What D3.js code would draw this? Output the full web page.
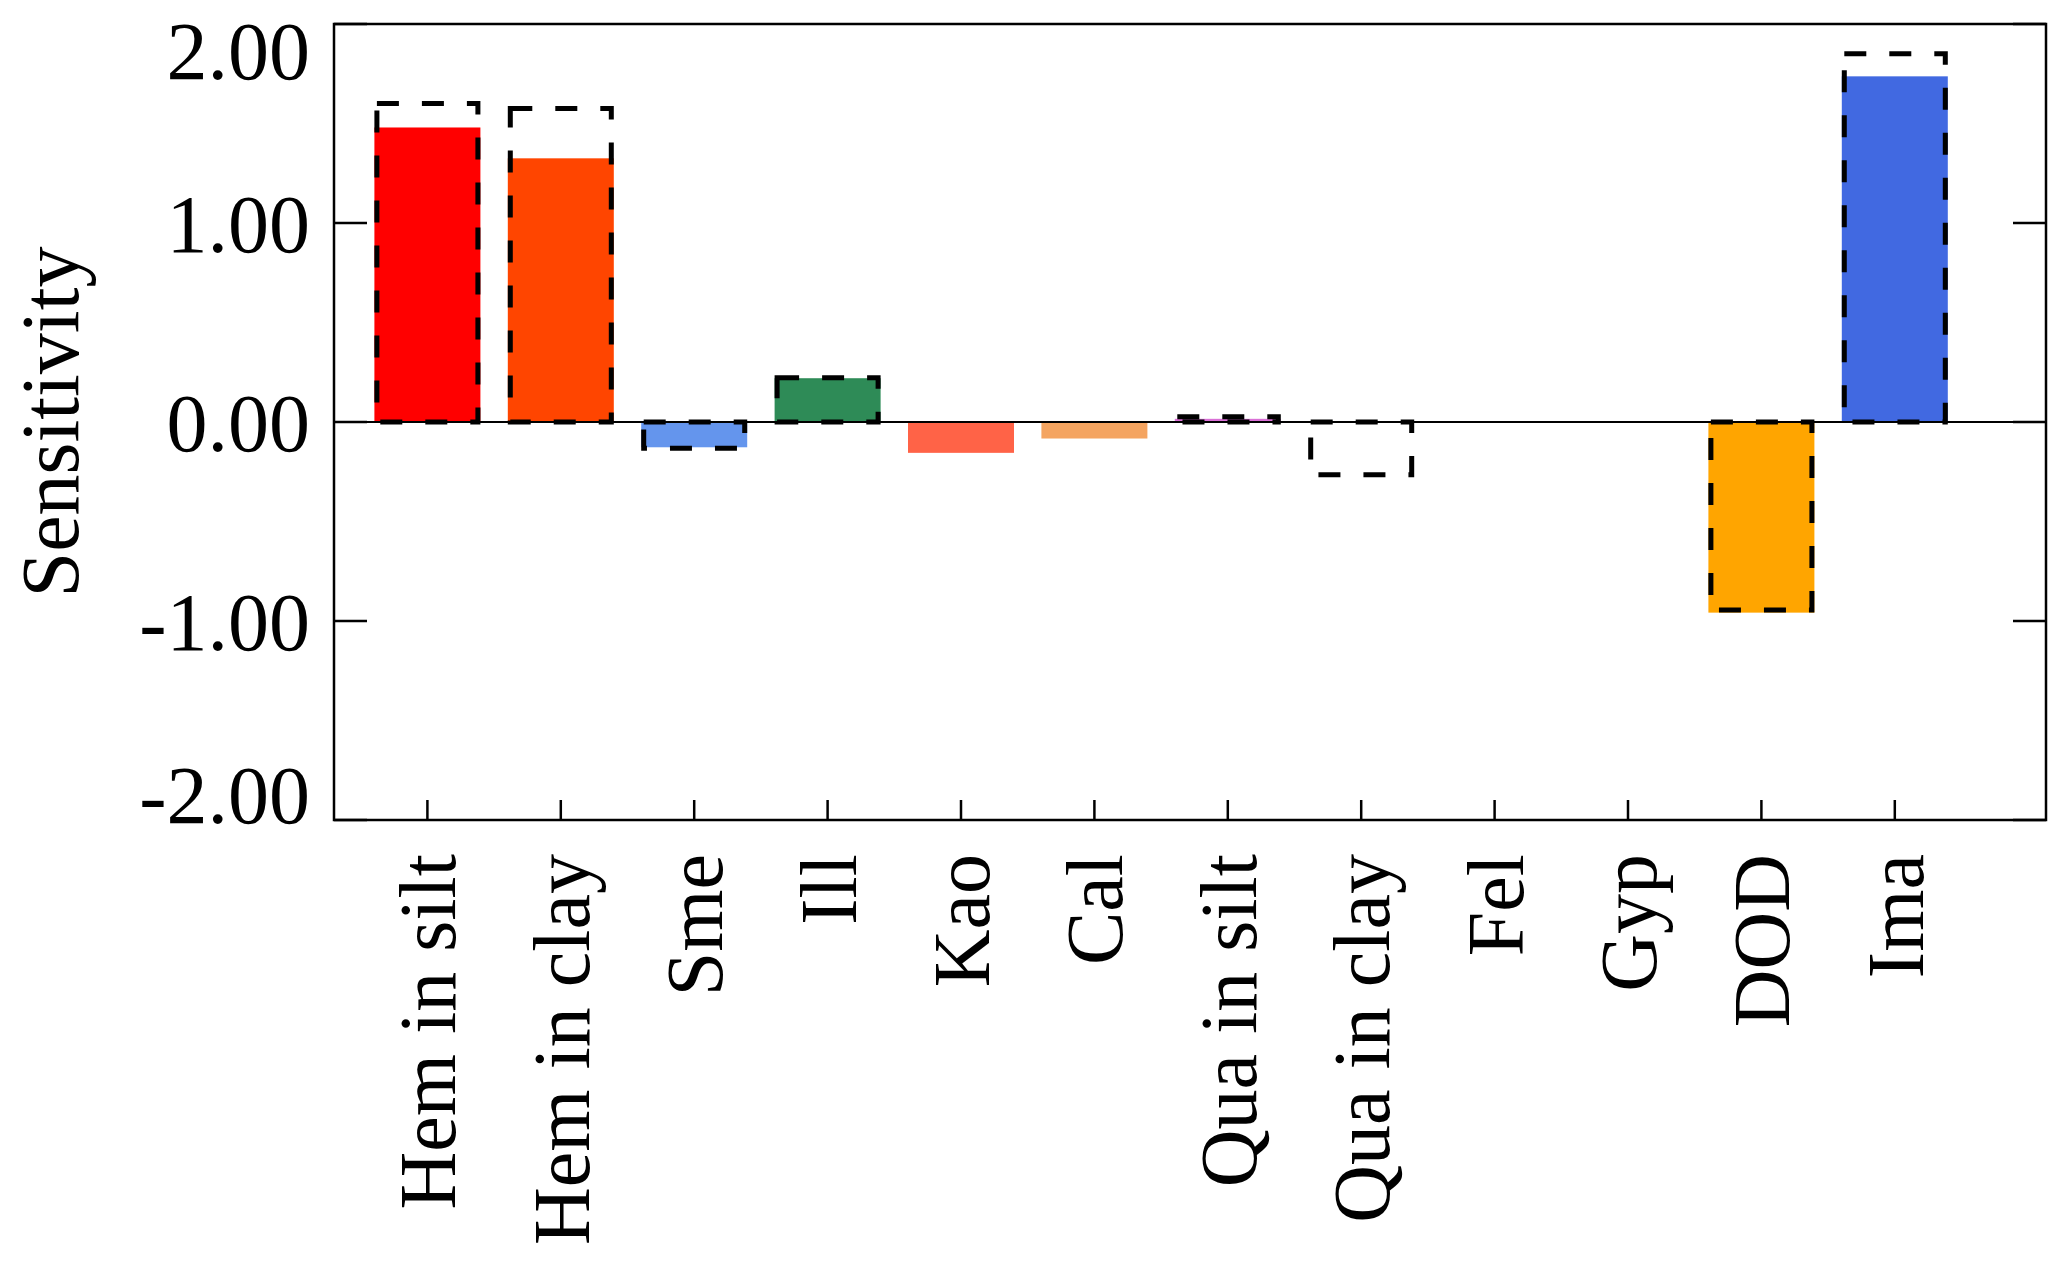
<!DOCTYPE html>
<html>
<head>
<meta charset="utf-8">
<script src="https://cdn.jsdelivr.net/npm/d3@7"></script>
<style>
  html, body { margin: 0; padding: 0; background: #fff; }
  svg { display: block; }
  text { font-family: "Liberation Serif", "Times New Roman", serif; fill: #000; }
</style>
</head>
<body>
<svg id="chart" width="2067" height="1262"></svg>
<script>
const categories = ["Hem in silt", "Hem in clay", "Sme", "Ill", "Kao", "Cal",
                    "Qua in silt", "Qua in clay", "Fel", "Gyp", "DOD", "Ima"];
const fillValues = [1.48, 1.325, -0.127, 0.22, -0.155, -0.083, 0.016, 0, 0.004, 0, -0.958, 1.737];
const dashValues = [1.60, 1.575, -0.132, 0.222, 0, 0, 0.026, -0.265, 0, 0, -0.945, 1.85];
const barColors = ["#FF0000", "#FF4500", "#6495ED", "#2E8B57", "#FF6347", "#F4A460",
                   "#DA70D6", "#8B4513", "#5F9EA0", "#9ACD32", "#FFA500", "#4169E1"];
const yTicks = [2, 1, 0, -1, -2];
const yTickLabels = ["2.00", "1.00", "0.00", "-1.00", "-2.00"];
const yLabel = "Sensitivity";

const plot = { left: 334, right: 2046, top: 24, bottom: 820 };
const svg = d3.select("#chart");

const step = 133.4;
const x = d3.scaleLinear().domain([0, categories.length - 1])
  .range([427.4, 427.4 + step * (categories.length - 1)]);
const y = d3.scaleLinear().domain([-2, 2]).range([plot.bottom, plot.top]);
const barW = 106;

const idx = d3.range(categories.length);

// filled bars
svg.append("g").selectAll("rect").data(idx.filter(i => fillValues[i] !== 0)).join("rect")
  .attr("x", i => x(i) - barW / 2)
  .attr("width", barW)
  .attr("y", i => y(Math.max(0, fillValues[i])))
  .attr("height", i => Math.max(1.5, Math.abs(y(fillValues[i]) - y(0))))
  .attr("fill", i => barColors[i]);

// zero line
svg.append("line")
  .attr("x1", plot.left).attr("x2", plot.right)
  .attr("y1", y(0)).attr("y2", y(0))
  .attr("stroke", "#000").attr("stroke-width", 2);

// dashed boxes
svg.append("g").selectAll("rect").data(idx.filter(i => dashValues[i] !== 0)).join("rect")
  .attr("x", i => x(i) - barW / 2 + 2.5)
  .attr("width", barW - 5)
  .attr("y", i => y(Math.max(0, dashValues[i])))
  .attr("height", i => Math.abs(y(dashValues[i]) - y(0)))
  .attr("fill", "none")
  .attr("stroke", "#000")
  .attr("stroke-width", 5)
  .attr("stroke-dasharray", "22,23");

// frame
svg.append("rect")
  .attr("x", plot.left).attr("y", plot.top)
  .attr("width", plot.right - plot.left).attr("height", plot.bottom - plot.top)
  .attr("fill", "none").attr("stroke", "#000").attr("stroke-width", 2.5);

// y ticks (inward, both sides)
const tickG = svg.append("g").attr("stroke", "#000").attr("stroke-width", 2.5);
yTicks.forEach(v => {
  tickG.append("line").attr("x1", plot.left).attr("x2", plot.left + 33)
    .attr("y1", y(v)).attr("y2", y(v));
  tickG.append("line").attr("x1", plot.right - 33).attr("x2", plot.right)
    .attr("y1", y(v)).attr("y2", y(v));
});
// x ticks (inward)
idx.forEach(i => {
  tickG.append("line").attr("x1", x(i)).attr("x2", x(i))
    .attr("y1", plot.bottom).attr("y2", plot.bottom - 20);
});

// y tick labels
svg.append("g").selectAll("text").data(yTicks).join("text")
  .attr("x", plot.left - 24)
  .attr("y", v => {
    const py = y(v);
    if (v === 2) return py + 26;
    if (v === -2) return py - 26;
    return py;
  })
  .attr("dy", "0.35em")
  .attr("text-anchor", "end")
  .attr("font-size", 82)
  .text((v, i) => yTickLabels[i]);

// x labels
svg.append("g").selectAll("text").data(idx).join("text")
  .attr("transform", i => `translate(${x(i)},854) rotate(-90)`)
  .attr("dy", "0.35em")
  .attr("text-anchor", "end")
  .attr("font-size", 80)
  .text(i => categories[i]);

// y axis title
svg.append("text")
  .attr("transform", `translate(78,${(plot.top + plot.bottom) / 2}) rotate(-90)`)
  .attr("text-anchor", "middle")
  .attr("font-size", 82)
  .text(yLabel);
</script>
</body>
</html>
